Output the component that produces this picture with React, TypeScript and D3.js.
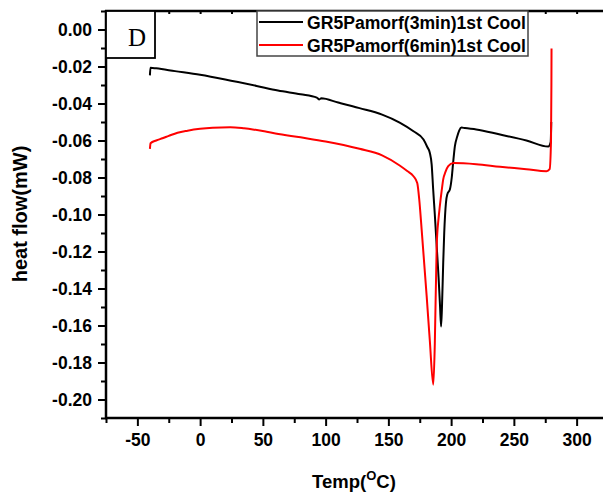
import React, { useRef, useEffect } from "react";
import * as d3 from "d3";

// 3 min sample, 1st cool (black)
const temp3 = [
  -40, -39.6, -35, -20, 0, 20, 45, 62, 80, 93, 95, 96.5, 110, 127, 145, 159, 170, 178, 181, 183,
  184.5, 185.7, 187, 188.5, 190, 191.2, 192, 192.8, 193.7, 194.5, 195.9, 197, 199, 200.5, 201.6,
  203, 204.8, 206.5, 208.3, 211, 220, 239, 260, 277.4, 279.3, 279.8,
];
const flow3 = [
  -0.0248, -0.0207, -0.021, -0.0225, -0.0245, -0.027, -0.0305, -0.033, -0.035, -0.0368, -0.0378,
  -0.0372, -0.0395, -0.0425, -0.046, -0.0503, -0.055, -0.0595, -0.0635, -0.0666, -0.073, -0.0865,
  -0.1, -0.117, -0.134, -0.15, -0.1605, -0.148, -0.126, -0.11, -0.0935, -0.089, -0.0865, -0.08,
  -0.072, -0.063, -0.058, -0.0545, -0.053, -0.0533, -0.054, -0.0568, -0.06, -0.0633, -0.061, -0.05,
];

// 6 min sample, 1st cool (red)
const temp6 = [
  -40, -39.5, -35, -30, -25, -18, -10, 0, 10, 24, 35, 42, 53, 60, 80, 100, 127, 145, 159, 165, 170,
  173, 174.6, 176.5, 180.5, 183, 185.8, 187, 188.5, 190, 191, 192.5, 193.7, 195.5, 197.7, 201.7,
  220, 239, 260, 276, 278.5, 279.6, 279.9, 280,
];
const flow6 = [
  -0.0645, -0.0615, -0.06, -0.0588, -0.0575, -0.0558, -0.0547, -0.0537, -0.0531, -0.0528, -0.0534,
  -0.054, -0.0553, -0.0562, -0.0583, -0.0605, -0.0645, -0.068, -0.0735, -0.0765, -0.0793, -0.083,
  -0.0919, -0.108, -0.144, -0.168, -0.192, -0.17, -0.117, -0.102, -0.0955, -0.087, -0.081, -0.077,
  -0.0739, -0.0722, -0.0728, -0.0742, -0.0755, -0.0766, -0.0755, -0.06, -0.03, -0.0103,
];

const seriesNames = ["GR5Pamorf(3min)1st Cool", "GR5Pamorf(6min)1st Cool"];
const seriesColors = ["#000000", "#ff0000"];

const xMajor = [-50, 0, 50, 100, 150, 200, 250, 300];
const xMinor = [-75, -25, 25, 75, 125, 175, 225, 275, 325];
const yMajor = [0, -0.02, -0.04, -0.06, -0.08, -0.1, -0.12, -0.14, -0.16, -0.18, -0.2];
const yMinor = [0.01, -0.01, -0.03, -0.05, -0.07, -0.09, -0.11, -0.13, -0.15, -0.17, -0.19, -0.21];

const FONT = "'Liberation Sans', Arial, sans-serif";

const App = () => {
  const ref = useRef<HTMLDivElement>(null);

  useEffect(() => {
    const width = 603;
    const height = 495;
    const left = 106;
    const top = 11;
    const bottom = 418;

    const svg = d3
      .select(ref.current)
      .append("svg")
      .attr("width", width)
      .attr("height", height)
      .style("display", "block");

    const x = d3.scaleLinear().domain([-75, 325]).range([left, 608]);
    const y = d3.scaleLinear().domain([-0.21, 0.01]).range([bottom, top]);

    // curves
    const line = d3
      .line<[number, number]>()
      .x((d) => x(d[0]))
      .y((d) => y(d[1]))
      .curve(d3.curveMonotoneX);

    const series = [
      temp3.map((t, i) => [t, flow3[i]] as [number, number]),
      temp6.map((t, i) => [t, flow6[i]] as [number, number]),
    ];

    series.forEach((s, i) => {
      svg
        .append("path")
        .attr("d", line(s))
        .attr("fill", "none")
        .attr("stroke", seriesColors[i])
        .attr("stroke-width", 2)
        .attr("stroke-linejoin", "round");
    });

    // y axis
    const yAxis = svg.append("g").attr("transform", `translate(${left},0)`);
    yAxis
      .call(
        d3
          .axisLeft(y)
          .tickValues(yMajor)
          .tickSize(8)
          .tickPadding(6)
          .tickFormat((d) => (+d).toFixed(2))
      )
      .call((g) => g.select(".domain").remove());
    yAxis
      .append("g")
      .call(d3.axisLeft(y).tickValues(yMinor).tickSize(5).tickFormat(() => ""))
      .call((g) => g.select(".domain").remove());

    // x axis
    const xAxis = svg.append("g").attr("transform", `translate(0,${bottom})`);
    xAxis
      .call(d3.axisBottom(x).tickValues(xMajor).tickSize(8).tickPadding(8).tickFormat((d) => `${d}`))
      .call((g) => g.select(".domain").remove());
    xAxis
      .append("g")
      .call(d3.axisBottom(x).tickValues(xMinor).tickSize(5).tickFormat(() => ""))
      .call((g) => g.select(".domain").remove());

    // top axis, ticks inward
    const xTop = svg.append("g").attr("transform", `translate(0,${top})`);
    xTop
      .call(d3.axisBottom(x).tickValues([...xMajor, ...xMinor]).tickSize(3).tickFormat(() => ""))
      .call((g) => g.select(".domain").remove());

    svg.selectAll(".tick line").attr("stroke", "#000").attr("stroke-width", 2);
    svg
      .selectAll(".tick text")
      .attr("fill", "#000")
      .style("font-family", FONT)
      .style("font-weight", "bold")
      .style("font-size", "17.5px");

    // frame lines
    svg
      .append("line")
      .attr("x1", left)
      .attr("x2", left)
      .attr("y1", top - 1)
      .attr("y2", bottom + 1)
      .attr("stroke", "#000")
      .attr("stroke-width", 2.5);
    [top, bottom].forEach((yy) =>
      svg
        .append("line")
        .attr("x1", left - 1)
        .attr("x2", width)
        .attr("y1", yy)
        .attr("y2", yy)
        .attr("stroke", "#000")
        .attr("stroke-width", 2.5)
    );

    // panel label
    svg
      .append("rect")
      .attr("x", left)
      .attr("y", top)
      .attr("width", 49)
      .attr("height", 47)
      .attr("fill", "#fff")
      .attr("stroke", "#000")
      .attr("stroke-width", 1.8);
    svg
      .append("text")
      .attr("x", left + 31)
      .attr("y", 46)
      .attr("text-anchor", "middle")
      .style("font-family", "'Liberation Serif', 'Times New Roman', serif")
      .style("font-size", "25px")
      .text("D");

    // legend
    const legend = svg.append("g");
    legend
      .append("rect")
      .attr("x", 257)
      .attr("y", top)
      .attr("width", 271)
      .attr("height", 45)
      .attr("fill", "#fff")
      .attr("stroke", "#444")
      .attr("stroke-width", 1.5);
    seriesNames.forEach((name, i) => {
      const cy = 22 + i * 23;
      legend
        .append("line")
        .attr("x1", 259)
        .attr("x2", 303)
        .attr("y1", cy)
        .attr("y2", cy)
        .attr("stroke", seriesColors[i])
        .attr("stroke-width", 2);
      legend
        .append("text")
        .attr("x", 307)
        .attr("y", cy + 7)
        .style("font-family", FONT)
        .style("font-weight", "bold")
        .style("font-size", "17.6px")
        .text(name);
    });

    // axis titles
    svg
      .append("text")
      .attr("transform", `translate(27,214) rotate(-90)`)
      .attr("text-anchor", "middle")
      .style("font-family", FONT)
      .style("font-weight", "bold")
      .style("font-size", "20px")
      .text("heat flow(mW)");

    const xt = svg
      .append("text")
      .attr("x", 312)
      .attr("y", 488)
      .style("font-family", FONT)
      .style("font-weight", "bold")
      .style("font-size", "18.5px");
    xt.append("tspan").text("Temp(");
    xt.append("tspan").attr("dy", -8).style("font-size", "13px").text("O");
    xt.append("tspan").attr("dy", 8).text("C)");

    return () => {
      svg.remove();
    };
  }, []);

  return <div ref={ref} style={{ position: "absolute", left: 0, top: 0 }}></div>;
};

export default App;
